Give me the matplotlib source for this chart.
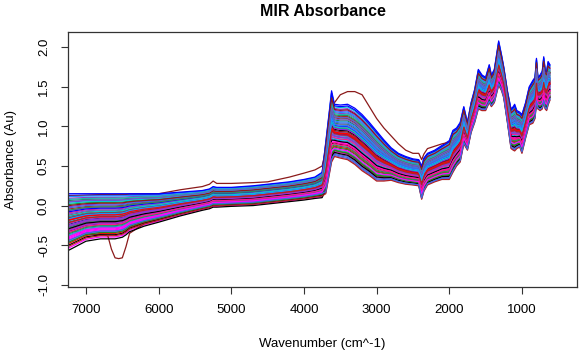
import numpy as np
import matplotlib
matplotlib.use('Agg')
import matplotlib.pyplot as plt

wavenumber = [7250, 7000, 6800, 6700, 6650, 6600, 6550, 6500, 6450, 6400, 6200, 6000,
              5700, 5400, 5300, 5250, 5200, 5000, 4700, 4500, 4200, 4000, 3850, 3750,
              3700, 3650, 3620, 3580, 3500, 3400, 3300, 3200, 3100, 3000, 2900, 2800,
              2700, 2600, 2500, 2420, 2380, 2350, 2300, 2200, 2100, 2000, 1950, 1900,
              1850, 1800, 1750, 1700, 1650, 1600, 1550, 1500, 1450, 1420, 1380, 1320,
              1280, 1250, 1200, 1150, 1120, 1100, 1070, 1030, 1000, 950, 900, 850,
              820, 800, 780, 750, 720, 700, 680, 660, 640, 615]

# upper edge of the main bundle
upper = [0.15, 0.15, 0.15, 0.15, 0.15, 0.15, 0.15, 0.15, 0.15, 0.15, 0.15, 0.15,
         0.17, 0.19, 0.21, 0.24, 0.23, 0.23, 0.25, 0.27, 0.30, 0.33, 0.36, 0.42,
         0.80, 1.20, 1.45, 1.28, 1.27, 1.28, 1.23, 1.15, 1.05, 0.94, 0.83, 0.73,
         0.66, 0.62, 0.59, 0.58, 0.50, 0.60, 0.66, 0.70, 0.76, 0.82, 0.95, 0.98,
         1.05, 1.25, 1.05, 1.30, 1.47, 1.72, 1.65, 1.62, 1.78, 1.65, 1.72, 2.08,
         1.90, 1.75, 1.45, 1.22, 1.25, 1.28, 1.20, 1.18, 1.15, 1.30, 1.50, 1.58,
         1.62, 1.86, 1.62, 1.65, 1.70, 1.88, 1.72, 1.70, 1.82, 1.78]

# lower edge of the main bundle
lower = [-0.57, -0.45, -0.42, -0.42, -0.42, -0.42, -0.41, -0.40, -0.37, -0.33, -0.26, -0.21,
         -0.13, -0.06, -0.04, -0.02, -0.02, -0.01, 0.00, 0.02, 0.05, 0.07, 0.09, 0.10,
         0.15, 0.40, 0.55, 0.62, 0.60, 0.58, 0.52, 0.44, 0.38, 0.31, 0.31, 0.32,
         0.29, 0.27, 0.26, 0.25, 0.08, 0.18, 0.26, 0.30, 0.33, 0.33, 0.42, 0.50,
         0.55, 0.78, 0.70, 0.92, 1.05, 1.22, 1.20, 1.20, 1.30, 1.25, 1.30, 1.52,
         1.45, 1.36, 1.05, 0.72, 0.70, 0.69, 0.72, 0.74, 0.66, 0.85, 1.02, 1.04,
         1.10, 1.30, 1.22, 1.20, 1.22, 1.30, 1.22, 1.20, 1.27, 1.33]

# the one sample lying above the bundle in the O-H region
high_sample = [0.12, 0.13, 0.14, 0.14, 0.14, 0.14, 0.14, 0.14, 0.14, 0.15, 0.15, 0.15,
               0.20, 0.24, 0.27, 0.31, 0.28, 0.28, 0.29, 0.30, 0.36, 0.41, 0.45, 0.50,
               0.70, 1.05, 1.22, 1.30, 1.40, 1.44, 1.44, 1.40, 1.25, 1.10, 0.98, 0.88,
               0.78, 0.70, 0.66, 0.66, 0.58, 0.65, 0.72, 0.75, 0.78, 0.80, 0.90, 0.92,
               0.98, 1.15, 0.98, 1.20, 1.38, 1.60, 1.55, 1.52, 1.66, 1.55, 1.62, 1.95,
               1.80, 1.65, 1.35, 1.10, 1.12, 1.15, 1.10, 1.08, 1.04, 1.20, 1.40, 1.46,
               1.50, 1.72, 1.52, 1.55, 1.58, 1.74, 1.60, 1.58, 1.68, 1.68]

# the sample with the absorption dip near 6600
dip_sample = [-0.30, -0.36, -0.37, -0.38, -0.55, -0.66, -0.67, -0.66, -0.52, -0.35, -0.23, -0.18,
              -0.10, -0.03, -0.01, 0.01, 0.01, 0.02, 0.03, 0.05, 0.08, 0.10, 0.12, 0.13,
              0.20, 0.48, 0.62, 0.70, 0.68, 0.66, 0.60, 0.52, 0.45, 0.38, 0.37, 0.37,
              0.34, 0.32, 0.30, 0.29, 0.12, 0.22, 0.30, 0.34, 0.37, 0.38, 0.48, 0.55,
              0.61, 0.84, 0.74, 0.97, 1.10, 1.28, 1.25, 1.25, 1.36, 1.30, 1.35, 1.58,
              1.50, 1.41, 1.10, 0.78, 0.76, 0.76, 0.78, 0.79, 0.72, 0.90, 1.08, 1.10,
              1.16, 1.37, 1.27, 1.26, 1.28, 1.37, 1.28, 1.26, 1.33, 1.38]

# position of each other sample inside the bundle (0 = lower edge, 1 = upper edge),
# read separately for the NIR side (>= 3750) and the MIR side (< 3750)
pos_nir = [0.46, 0.12, 0.81, 0.33, 0.58, 0.04, 0.92, 0.27, 0.66, 0.50,
           0.18, 0.73, 0.39, 0.85, 0.55, 0.09, 0.62, 0.31, 0.97, 0.43,
           0.22, 0.70, 0.52, 0.36, 0.88, 0.15, 0.60, 0.47, 0.77, 0.25,
           0.00, 0.54, 0.41, 0.68, 0.83, 0.20, 0.57, 0.35, 0.95, 0.48,
           0.29, 0.64, 0.07, 0.75, 0.44, 0.90, 0.38, 0.53, 0.14, 1.00,
           0.61, 0.24, 0.79, 0.42, 0.56, 0.32, 0.71, 0.86, 0.49, 0.17]
pos_mir = [0.52, 0.20, 0.70, 0.45, 0.38, 0.10, 0.84, 0.33, 0.58, 0.64,
           0.06, 0.78, 0.48, 0.92, 0.42, 0.26, 0.55, 0.18, 1.00, 0.35,
           0.30, 0.62, 0.68, 0.24, 0.80, 0.02, 0.74, 0.40, 0.88, 0.14,
           0.08, 0.46, 0.56, 0.60, 0.95, 0.28, 0.50, 0.43, 0.86, 0.36,
           0.22, 0.72, 0.00, 0.66, 0.54, 0.82, 0.31, 0.47, 0.12, 0.97,
           0.57, 0.16, 0.90, 0.39, 0.61, 0.27, 0.76, 0.76, 0.44, 0.04]

colors = ["#000000", "#FF0000", "#228B22", "#0000FF", "#00CDCD", "#FF00FF",
          "#8B1A1A", "#9932CC", "#1E90FF", "#FF1493", "#2E8B57", "#6A5ACD",
          "#B22222", "#4169E1", "#8A2BE2", "#20B2AA"]

plt.rcParams['font.family'] = ['Liberation Sans', 'DejaVu Sans']

wn = np.array(wavenumber)
lo = np.array(lower)
hi = np.array(upper)
nir = wn >= 3750

fig = plt.figure(figsize=(5.81, 3.58), dpi=100)
ax = fig.add_axes([0.117, 0.198, 0.876, 0.712])

spectra = [lo + np.where(nir, a, b) * (hi - lo) for a, b in zip(pos_nir, pos_mir)]
spectra.insert(6, np.array(dip_sample))
spectra.insert(22, np.array(high_sample))
for i, s in enumerate(spectra):
    ax.plot(wn, s, color=colors[i % len(colors)], lw=0.9, solid_joinstyle='round')

ax.set_xlim(7248, 243)
ax.set_ylim(-1.03, 2.19)
ax.set_xticks([7000, 6000, 5000, 4000, 3000, 2000, 1000])
ax.set_yticks([-1.0, -0.5, 0.0, 0.5, 1.0, 1.5, 2.0])
ax.set_yticklabels(['-1.0', '-0.5', '0.0', '0.5', '1.0', '1.5', '2.0'],
                   rotation=90, va='center')
ax.tick_params(axis='both', labelsize=9.5, length=5, width=0.8, color='#333333')
ax.tick_params(axis='x', pad=7)
ax.tick_params(axis='y', pad=8)
for sp in ax.spines.values():
    sp.set_color('#333333')
    sp.set_linewidth(0.9)

ax.set_xlabel('Wavenumber (cm^-1)', fontsize=9.5)
ax.xaxis.set_label_coords(0.5, -0.2)
ax.set_ylabel('Absorbance (Au)', fontsize=9.5)
ax.yaxis.set_label_coords(-0.1, 0.5)
fig.text(0.555, 1 - 12 / 358, 'MIR Absorbance', ha='center', va='center',
         fontsize=11.5, fontweight='bold')

fig.savefig('out.png', dpi=100)
